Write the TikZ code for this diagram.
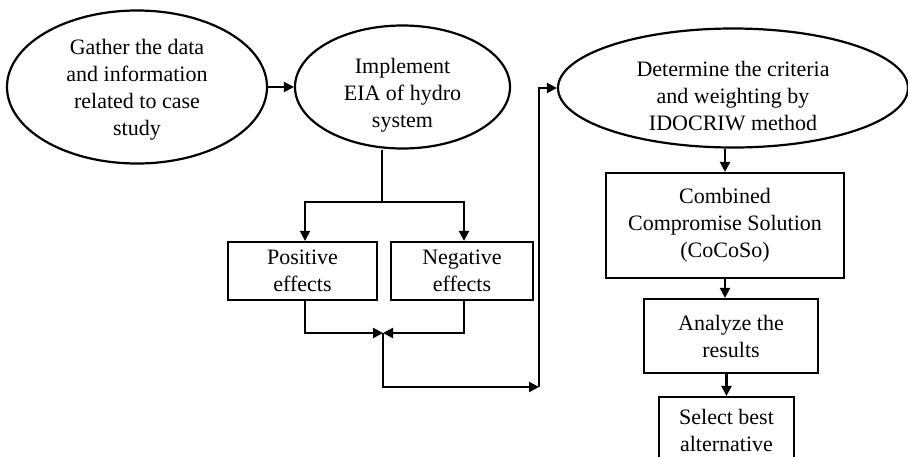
\documentclass[tikz,border=0pt]{standalone}
\usepackage{fontspec}
\setmainfont{Liberation Serif}
\usetikzlibrary{shapes.geometric,arrows.meta}
\begin{document}
\begin{tikzpicture}[x=1pt,y=-1pt,
  every node/.style={font=\fontsize{22}{27}\selectfont, align=center, inner sep=0pt},
  oval/.style={ellipse, draw, line width=2.2pt},
  boxnode/.style={rectangle, draw, line width=2.2pt},
  link/.style={line width=2.2pt},
  arr/.style={line width=2.2pt, -{Triangle[length=10pt,width=10pt]}}]
\clip (0,0) rectangle (908,456);
\fill[white] (0,0) rectangle (908,456);
% ellipses
\node[oval, minimum width=260pt, minimum height=153pt] (e1) at (137,87) {};
\node[oval, minimum width=215pt, minimum height=123pt] (e2) at (402.5,87) {};
\node[oval, minimum width=350pt, minimum height=119pt] (e3) at (733,88) {};
\node (e1t) at (137,90) {Gather the data\\and information\\related to case\\study};
\node (e2t) at (402.5,95) {Implement\\EIA of hydro\\system};
\node (e3t) at (733,96) {Determine the criteria\\and weighting by\\IDOCRIW method};
% boxes
\node[boxnode, minimum width=149pt, minimum height=58pt] (pos) at (302.5,271) {Positive\\effects};
\node[boxnode, minimum width=142pt, minimum height=58pt] (neg) at (462,271) {Negative\\effects};
\node[boxnode, minimum width=238pt, minimum height=105pt] (comb) at (725,225.5) {Combined\\Compromise Solution\\(CoCoSo)};
\node[boxnode, minimum width=174pt, minimum height=74pt] (ana) at (731,336) {Analyze the\\results};
\node[boxnode, minimum width=135pt, minimum height=66pt] (sel) at (726.5,430) {Select best\\alternative};
% coordinates
\coordinate (j1) at (382,202);
\coordinate (pa) at (305,202);
\coordinate (na) at (464,202);
\coordinate (m) at (383,333);
\coordinate (c1) at (539,387);
% connectors
\draw[arr] (e1.east) -- (e2.west);
\draw[link] (j1 |- e2.south) -- (j1);
\draw[arr] (j1) -- (pa) -- (pa |- pos.north);
\draw[arr] (j1) -- (na) -- (na |- neg.north);
\draw[arr] (pa |- pos.south) |- (m);
\draw[arr] (na |- neg.south) |- (m);
\draw[arr] (m) |- (c1);
\draw[arr] (c1) |- (e3.west);
\draw[arr] (comb.north |- e3.south) -- (comb.north);
\draw[arr] (comb.south) -- (comb.south |- ana.north);
\draw[arr] (sel.north |- ana.south) -- (sel.north);
\end{tikzpicture}
\end{document}
